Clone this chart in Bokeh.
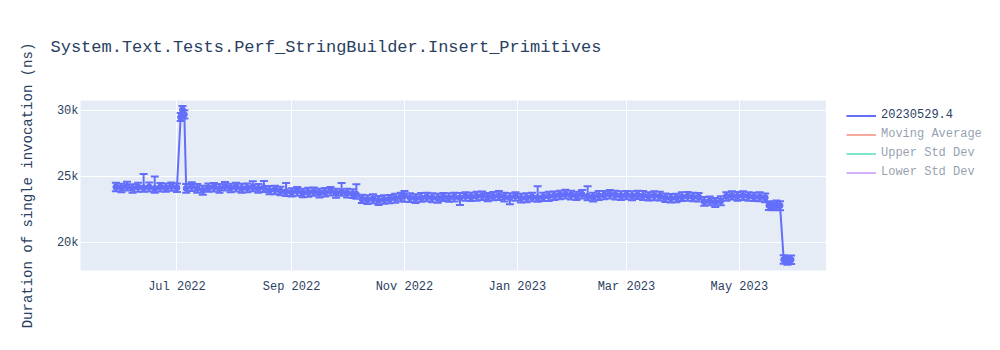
import pandas as pd
from bokeh.plotting import figure
from bokeh.layouts import row
from bokeh.models import (ColumnDataSource, Whisker, TeeHead, Range1d, FixedTicker,
                          DatetimeTickFormatter, Legend, LegendItem, Title)
from bokeh.embed import file_html
from bokeh.resources import INLINE

TITLE = "System.Text.Tests.Perf_StringBuilder.Insert_Primitives"
Y_LABEL = "Duration of single invocation (ns)"
SERIES_NAME = "20230529.4"
SERIES_COLOR = "#636efa"
HIDDEN_SERIES = ["Moving Average", "Upper Std Dev", "Lower Std Dev"]
HIDDEN_COLORS = ["#EF553B", "#00cc96", "#ab63fa"]
FONT = "Liberation Mono"
TEXT_COLOR = "#2a3f5f"

dates = [
    "2022-05-29", "2022-06-01", "2022-06-04", "2022-06-07", "2022-06-10", "2022-06-13",
    "2022-06-16", "2022-06-19", "2022-06-22", "2022-06-25", "2022-06-28", "2022-07-01",
    "2022-07-03", "2022-07-04", "2022-07-05", "2022-07-06", "2022-07-09", "2022-07-12",
    "2022-07-15", "2022-07-18", "2022-07-21", "2022-07-24", "2022-07-27", "2022-07-30",
    "2022-08-02", "2022-08-05", "2022-08-08", "2022-08-11", "2022-08-14", "2022-08-17",
    "2022-08-20", "2022-08-23", "2022-08-26", "2022-08-29", "2022-09-01", "2022-09-04",
    "2022-09-07", "2022-09-10", "2022-09-13", "2022-09-16", "2022-09-19", "2022-09-22",
    "2022-09-25", "2022-09-28", "2022-10-01", "2022-10-04", "2022-10-06", "2022-10-09",
    "2022-10-12", "2022-10-15", "2022-10-18", "2022-10-21", "2022-10-24", "2022-10-27",
    "2022-10-30", "2022-11-01", "2022-11-04", "2022-11-07", "2022-11-10", "2022-11-13",
    "2022-11-16", "2022-11-19", "2022-11-22", "2022-11-25", "2022-11-28", "2022-12-01",
    "2022-12-04", "2022-12-07", "2022-12-10", "2022-12-13", "2022-12-16", "2022-12-19",
    "2022-12-22", "2022-12-25", "2022-12-28", "2022-12-31", "2023-01-03", "2023-01-06",
    "2023-01-09", "2023-01-12", "2023-01-15", "2023-01-18", "2023-01-21", "2023-01-24",
    "2023-01-27", "2023-01-30", "2023-02-02", "2023-02-05", "2023-02-08", "2023-02-11",
    "2023-02-14", "2023-02-17", "2023-02-20", "2023-02-23", "2023-02-26", "2023-03-01",
    "2023-03-04", "2023-03-07", "2023-03-10", "2023-03-13", "2023-03-16", "2023-03-19",
    "2023-03-22", "2023-03-25", "2023-03-28", "2023-03-31", "2023-04-03", "2023-04-06",
    "2023-04-09", "2023-04-12", "2023-04-15", "2023-04-18", "2023-04-21", "2023-04-24",
    "2023-04-27", "2023-04-30", "2023-05-03", "2023-05-06", "2023-05-09", "2023-05-12",
    "2023-05-15", "2023-05-17", "2023-05-19", "2023-05-21", "2023-05-23", "2023-05-25",
    "2023-05-27", "2023-05-29",
]

values = [
    24200, 24150, 24250, 24100, 24200, 24150,
    24200, 24100, 24200, 24150, 24250, 24150,
    29500, 30050, 29700, 24100, 24250, 24100,
    23950, 24150, 24200, 24100, 24250, 24150,
    24200, 24100, 24150, 24200, 24100, 24150,
    23950, 24000, 23900, 23850, 23800, 23900,
    23750, 23800, 23850, 23750, 23800, 23900,
    23750, 23850, 23750, 23700, 23650, 23300,
    23250, 23300, 23200, 23250, 23300, 23350,
    23450, 23550, 23400, 23350, 23400, 23450,
    23400, 23350, 23450, 23400, 23450, 23400,
    23500, 23450, 23500, 23550, 23450, 23500,
    23550, 23450, 23400, 23500, 23350, 23400,
    23450, 23400, 23450, 23500, 23550, 23600,
    23650, 23600, 23550, 23650, 23500, 23450,
    23550, 23600, 23650, 23600, 23550, 23600,
    23550, 23600, 23550, 23500, 23550, 23500,
    23400, 23350, 23400, 23450, 23500, 23450,
    23450, 23100, 23150, 23050, 23150, 23500,
    23550, 23500, 23550, 23500, 23450, 23450,
    23400, 22800, 22750, 22850, 22800, 18700,
    18650, 18700,
]

err_up = [
    330, 300, 350, 320, 330, 1050,
    340, 900, 310, 330, 300, 330,
    320, 300, 330, 340, 310, 330,
    350, 320, 300, 330, 340, 310,
    330, 350, 320, 450, 330, 520,
    340, 310, 330, 650, 320, 300,
    330, 350, 310, 330, 340, 300,
    320, 650, 330, 340, 760, 310,
    330, 350, 320, 330, 300, 340,
    320, 360, 330, 310, 350, 320,
    330, 340, 300, 330, 320, 350,
    310, 330, 340, 320, 300, 330,
    350, 320, 330, 310, 340, 330,
    320, 860, 330, 350, 310, 320,
    340, 330, 300, 320, 760, 330,
    350, 310, 330, 320, 340, 300,
    330, 320, 350, 310, 330, 340,
    320, 330, 300, 350, 320, 330,
    310, 340, 330, 320, 350, 300,
    330, 320, 340, 310, 330, 350,
    320, 330, 310, 340, 320, 330,
    300, 320,
]

err_down = [
    320, 340, 300, 330, 350, 310,
    330, 320, 340, 300, 330, 320,
    300, 320, 310, 330, 350, 320,
    340, 310, 330, 320, 300, 340,
    330, 320, 350, 310, 330, 320,
    300, 340, 320, 330, 310, 350,
    320, 330, 300, 340, 320, 330,
    350, 310, 330, 320, 340, 300,
    330, 320, 350, 310, 330, 340,
    320, 460, 330, 350, 310, 320,
    340, 330, 300, 320, 350, 560,
    330, 310, 340, 320, 330, 300,
    320, 350, 510, 330, 310, 340,
    330, 320, 300, 350, 330, 320,
    310, 340, 330, 320, 300, 350,
    320, 330, 310, 340, 320, 330,
    350, 300, 330, 320, 340, 310,
    330, 320, 350, 300, 330, 320,
    340, 310, 330, 350, 320, 330,
    300, 340, 320, 330, 310, 320,
    340, 330, 300, 320, 350, 310,
    330, 320,
]

x_tick_dates = ["2022-07-01", "2022-09-01", "2022-11-01", "2023-01-01", "2023-03-01", "2023-05-01"]
y_ticks = [20000, 25000, 30000]
y_tick_labels = ["20k", "25k", "30k"]

x = pd.to_datetime(dates)
lower = [v - d for v, d in zip(values, err_down)]
upper = [v + u for v, u in zip(values, err_up)]
src = ColumnDataSource(dict(x=x, y=values, lower=lower, upper=upper))

pad = (x.max() - x.min()) * 0.0524
x_range = Range1d(start=(x.min() - pad).to_pydatetime(), end=(x.max() + pad).to_pydatetime())
y_range = Range1d(start=17880, end=30760)

# ---------------- main chart ----------------
p = figure(width=826, height=350, x_axis_type="datetime", output_backend="svg",
           toolbar_location=None, x_range=x_range, y_range=y_range, title=None,
           min_border_left=80, min_border_right=0, min_border_top=100, min_border_bottom=80)
p.background_fill_color = "#E5ECF6"
p.border_fill_color = "white"
p.outline_line_color = None

whisk = Whisker(source=src, base="x", upper="upper", lower="lower", dimension="height",
                line_color=SERIES_COLOR, line_width=2,
                upper_head=TeeHead(size=8, line_color=SERIES_COLOR, line_width=2),
                lower_head=TeeHead(size=8, line_color=SERIES_COLOR, line_width=2))
p.add_layout(whisk)

p.line("x", "y", source=src, line_color=SERIES_COLOR, line_width=2)
p.scatter("x", "y", source=src, size=6, color=SERIES_COLOR)

p.xaxis.ticker = FixedTicker(ticks=list(pd.to_datetime(x_tick_dates).astype("int64") // 10**6))
fmt = "%b %Y"
p.xaxis.formatter = DatetimeTickFormatter(years=fmt, months=fmt, days=fmt, hours=fmt,
                                          hourmin=fmt, minutes=fmt, minsec=fmt, seconds=fmt,
                                          milliseconds=fmt, microseconds=fmt)
p.yaxis.ticker = FixedTicker(ticks=y_ticks)
p.yaxis.major_label_overrides = dict(zip(y_ticks, y_tick_labels))

for ax in (p.xaxis[0], p.yaxis[0]):
    ax.axis_line_color = None
    ax.major_tick_line_color = None
    ax.minor_tick_line_color = None
    ax.major_tick_out = 0
    ax.major_tick_in = 0
    ax.major_label_text_font = FONT
    ax.major_label_text_font_size = "12px"
    ax.major_label_text_color = TEXT_COLOR
p.xaxis.major_label_standoff = 9
p.yaxis.major_label_standoff = 2
p.yaxis.axis_label = Y_LABEL
p.yaxis.axis_label_text_font = FONT
p.yaxis.axis_label_text_font_size = "14px"
p.yaxis.axis_label_text_font_style = "normal"
p.yaxis.axis_label_text_color = TEXT_COLOR
p.yaxis.axis_label_standoff = 18

p.xgrid.grid_line_color = "white"
p.xgrid.grid_line_width = 1
p.ygrid.grid_line_color = "white"
p.ygrid.grid_line_width = 1

title = Title(text=TITLE, align="left", offset=-30, vertical_align="top",
              text_font=FONT, text_font_size="17px", text_font_style="normal",
              text_color=TEXT_COLOR)
try:
    title.padding = dict(left=0, right=0, top=36, bottom=42)
    title.standoff = 0
except Exception:
    title.standoff = 79
p.add_layout(title, "above")

# ---------------- legend panel (its frame is aligned with the chart's frame) ----------------
lg = figure(width=174, height=350, output_backend="svg", toolbar_location=None,
            x_range=Range1d(0, 1), y_range=Range1d(0, 1),
            x_axis_location=None, y_axis_location=None,
            min_border_left=0, min_border_right=0, min_border_top=0, min_border_bottom=0)
lg.outline_line_color = None
lg.background_fill_color = "white"
lg.border_fill_color = "white"
lg.grid.visible = False

# legend keys: the series placed far outside this panel's ranges, so only the keys show
key_src = ColumnDataSource(dict(x=list(range(10, 10 + len(values))), y=values))
items = []
main_key = lg.line("x", "y", source=key_src, line_color=SERIES_COLOR, line_width=2)
items.append(LegendItem(label=SERIES_NAME, renderers=[main_key]))
for name, col in zip(HIDDEN_SERIES, HIDDEN_COLORS):
    hr = lg.line("x", "y", source=key_src, line_color=col, line_width=2, visible=False)
    items.append(LegendItem(label=name, renderers=[hr]))

legend = Legend(items=items, location=(20, 88.5), click_policy="hide",
                inactive_fill_color="white", inactive_fill_alpha=0.5,
                glyph_width=30, glyph_height=19, label_height=19, label_standoff=5,
                spacing=0, padding=0, margin=0, border_line_color=None,
                background_fill_alpha=0,
                label_text_font=FONT, label_text_font_size="12px", label_text_color=TEXT_COLOR)
lg.add_layout(legend)

layout = row(p, lg)
open("out.html", "w").write(file_html(layout, INLINE))
